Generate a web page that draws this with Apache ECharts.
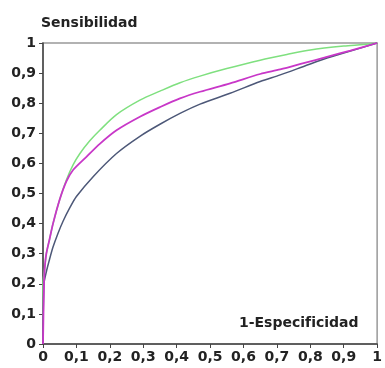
<!DOCTYPE html>
<html lang="es">
<head>
<meta charset="UTF-8" />
<title>Curvas ROC</title>
<style>
    html, body { margin: 0; padding: 0; background: #fff; }
    #chart { width: 385px; height: 368px; }
</style>
<script src="https://cdn.jsdelivr.net/npm/echarts@6/dist/echarts.min.js"></script>
</head>
<body>
<div id="chart"></div>
<script>
    // puntos (1-especificidad, sensibilidad)
    var verde = [
        [0, 0], [0, 0.2], [0.005, 0.25], [0.01, 0.3], [0.02, 0.35], [0.03, 0.4],
        [0.05, 0.48], [0.07, 0.545], [0.09, 0.595], [0.11, 0.632], [0.14, 0.675],
        [0.17, 0.71], [0.22, 0.762], [0.29, 0.81], [0.35, 0.84], [0.41, 0.868],
        [0.47, 0.89], [0.55, 0.915], [0.65, 0.943], [0.73, 0.962], [0.8, 0.977],
        [0.9, 0.99], [0.96, 0.995], [1, 1]
    ];
    var magenta = [
        [0, 0], [0.003, 0.2], [0.005, 0.25], [0.01, 0.3], [0.02, 0.35], [0.03, 0.4],
        [0.05, 0.48], [0.07, 0.54], [0.09, 0.578], [0.13, 0.622], [0.17, 0.665],
        [0.22, 0.71], [0.29, 0.755], [0.35, 0.787], [0.41, 0.816], [0.47, 0.838],
        [0.56, 0.866], [0.65, 0.897], [0.71, 0.912], [0.78, 0.933], [0.85, 0.954],
        [0.92, 0.975], [1, 1]
    ];
    var azul = [
        [0, 0], [0.003, 0.2], [0.01, 0.24], [0.02, 0.283], [0.03, 0.322], [0.045, 0.368],
        [0.06, 0.408], [0.08, 0.452], [0.1, 0.49], [0.15, 0.556], [0.22, 0.633],
        [0.29, 0.69], [0.35, 0.73], [0.41, 0.766], [0.47, 0.797], [0.56, 0.833],
        [0.65, 0.872], [0.71, 0.894], [0.78, 0.922], [0.85, 0.95], [0.92, 0.973], [1, 1]
    ];
    var etiquetaY = 'Sensibilidad';
    var etiquetaX = '1-Especificidad';

    var fuente = 'DejaVu Sans';

    function coma(v) {
        if (v === 0 || v === 1) return String(v);
        return v.toFixed(1).replace('.', ',');
    }

    var chart = echarts.init(document.getElementById('chart'));
    var option = {
        animation: false,
        title: [
            { text: etiquetaY, left: 36, top: 11,
              textStyle: { fontFamily: fuente, fontSize: 14, fontWeight: 'bold', color: '#222' } },
            { text: etiquetaX, right: 22, top: 311,
              textStyle: { fontFamily: fuente, fontSize: 14, fontWeight: 'bold', color: '#222' } }
        ],
        grid: {
            left: 43, right: 6, top: 43, bottom: 24,
            show: true, borderColor: '#999', borderWidth: 1.5, backgroundColor: '#fff'
        },
        xAxis: {
            type: 'value', min: 0, max: 1, interval: 0.1,
            axisLine: { lineStyle: { color: '#444', width: 1.5 } },
            axisTick: { show: true, length: 4, lineStyle: { color: '#444' } },
            splitLine: { show: false },
            axisLabel: { formatter: coma, margin: 6, fontFamily: fuente, fontSize: 14,
                         fontWeight: 'bold', color: '#222', showMaxLabel: true }
        },
        yAxis: {
            type: 'value', min: 0, max: 1, interval: 0.1,
            axisLine: { show: true, lineStyle: { color: '#444', width: 1.5 } },
            axisTick: { show: true, length: 4, lineStyle: { color: '#444' } },
            splitLine: { show: false },
            axisLabel: { formatter: coma, margin: 7, fontFamily: fuente, fontSize: 14,
                         fontWeight: 'bold', color: '#222' }
        },
        series: [
            { type: 'line', data: verde, showSymbol: false, smooth: 0.3,
              lineStyle: { color: '#7fe07f', width: 1.5 } },
            { type: 'line', data: azul, showSymbol: false, smooth: 0.3,
              lineStyle: { color: '#4d5878', width: 1.5 } },
            { type: 'line', data: magenta, showSymbol: false, smooth: 0.3,
              lineStyle: { color: '#c837c8', width: 1.8 } }
        ]
    };
    chart.setOption(option);
</script>
</body>
</html>
